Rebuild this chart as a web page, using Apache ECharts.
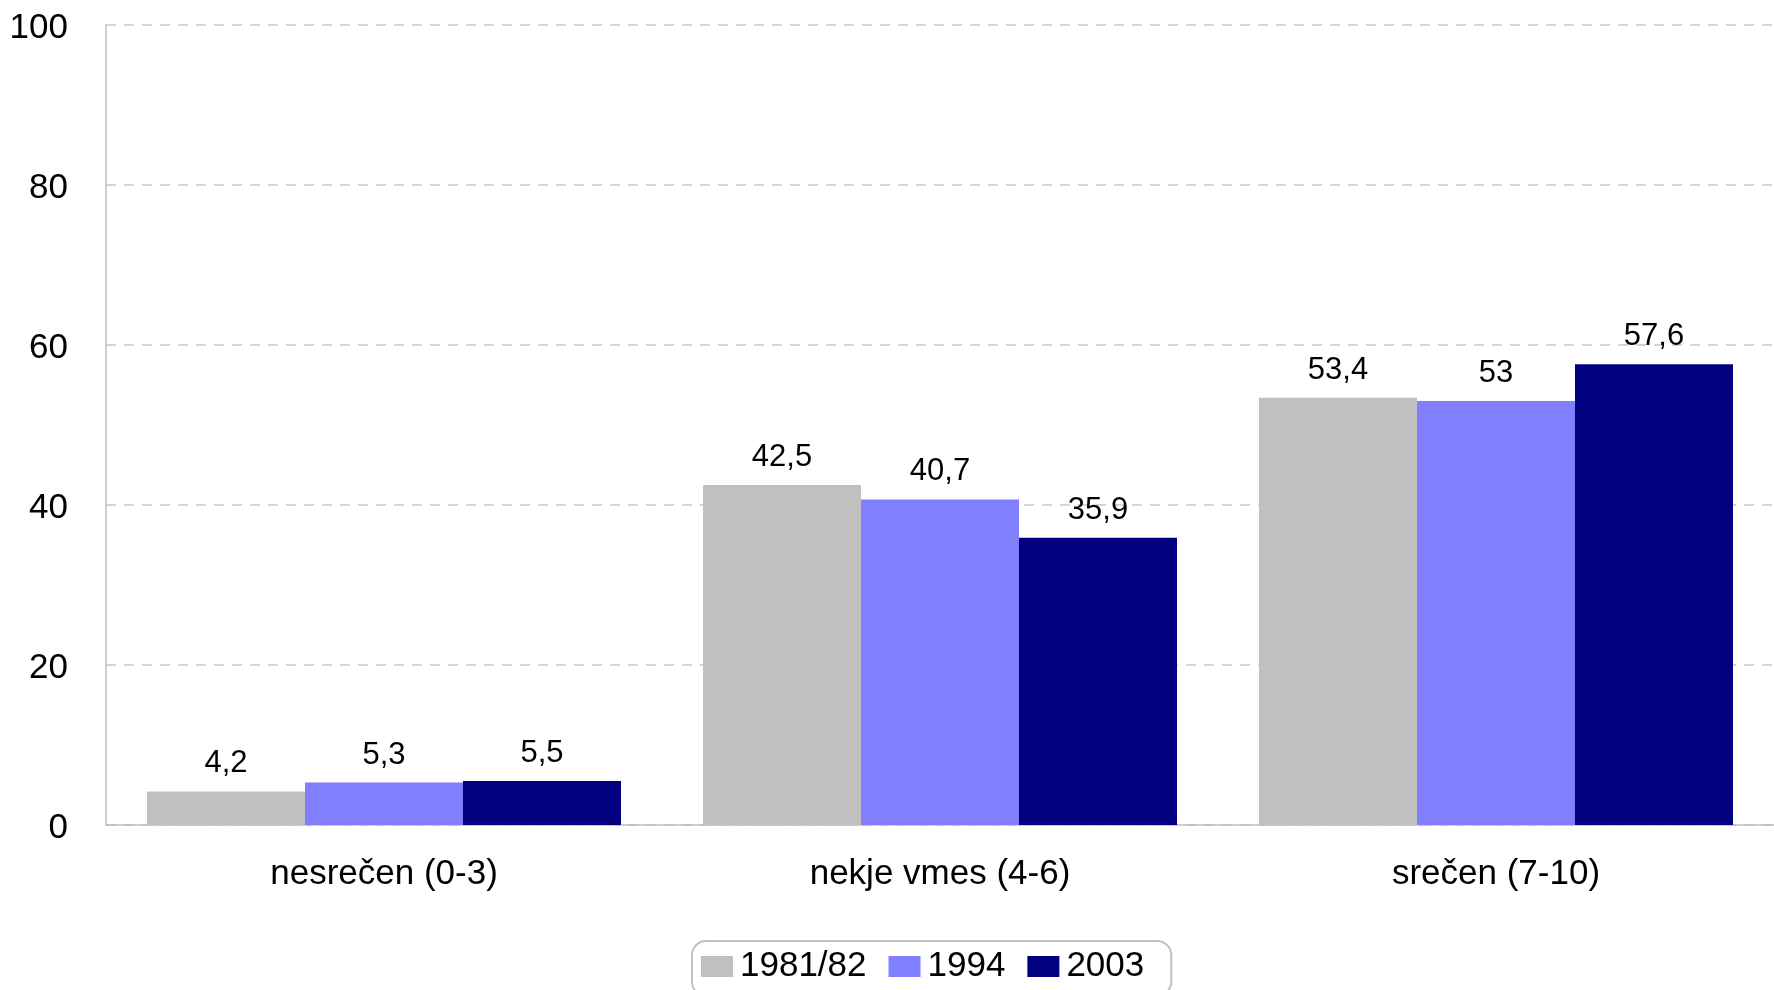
<!DOCTYPE html>
<html>
<head>
<meta charset="utf-8">
<script src="https://cdn.jsdelivr.net/npm/echarts@6/dist/echarts.min.js"></script>
<style>
html,body{margin:0;padding:0;background:#fff;}
#chart{width:1774px;height:990px;}
</style>
</head>
<body>
<div id="chart"></div>
<script>
const categories = ['nesrečen (0-3)', 'nekje vmes (4-6)', 'srečen (7-10)'];
const seriesNames = ['1981/82', '1994', '2003'];
const values1981 = [4.2, 42.5, 53.4];
const values1994 = [5.3, 40.7, 53];
const values2003 = [5.5, 35.9, 57.6];
const colors = ['#C0C0C0', '#8080FF', '#000080'];

const FONT = '"Liberation Sans", Arial, sans-serif';
const chart = echarts.init(document.getElementById('chart'), null, {renderer: 'canvas'});

function mk(name, data, color) {
  return {
    name: name,
    type: 'bar',
    data: data,
    barWidth: 158,
    barGap: '0%',
    itemStyle: {color: color},
    label: {
      show: true,
      position: 'top',
      distance: 12,
      color: '#000',
      fontFamily: FONT,
      fontSize: 31,
      formatter: p => String(p.value).replace('.', ',')
    }
  };
}

chart.setOption({
  animation: false,
  textStyle: {fontFamily: FONT},
  grid: {left: 106, top: 25, width: 1675, height: 800, containLabel: false},
  xAxis: {
    type: 'category',
    data: categories,
    axisLine: {show: true, lineStyle: {color: '#C0C0C0', width: 1.5}},
    axisTick: {show: false},
    axisLabel: {color: '#000', fontSize: 35, fontFamily: FONT, margin: 32}
  },
  yAxis: {
    type: 'value',
    min: 0, max: 100, interval: 20,
    axisLine: {show: true, lineStyle: {color: '#C0C0C0', width: 1.5}},
    axisTick: {show: false},
    axisLabel: {
      color: '#000', fontSize: 35, fontFamily: FONT, margin: 38,
      formatter: '{v|{value}}',
      rich: {v: {fontSize: 35, fontFamily: FONT, color: '#000', padding: [6, 0, 0, 0]}}
    },
    splitLine: {show: true, lineStyle: {color: '#C8C8C8', type: [10, 8], width: 1.5}}
  },
  legend: {
    top: 941,
    left: 692,
    padding: [8, 27, 12, 9],
    itemWidth: 32,
    itemHeight: 21,
    itemGap: 22,
    borderColor: '#C0C0C0',
    borderWidth: 2,
    borderRadius: 14,
    icon: 'rect',
    textStyle: {color: '#000', fontSize: 35, fontFamily: FONT, padding: [0, 0, 0, 2]},
    data: seriesNames
  },
  series: [
    mk(seriesNames[0], values1981, colors[0]),
    mk(seriesNames[1], values1994, colors[1]),
    mk(seriesNames[2], values2003, colors[2])
  ]
});
</script>
</body>
</html>
